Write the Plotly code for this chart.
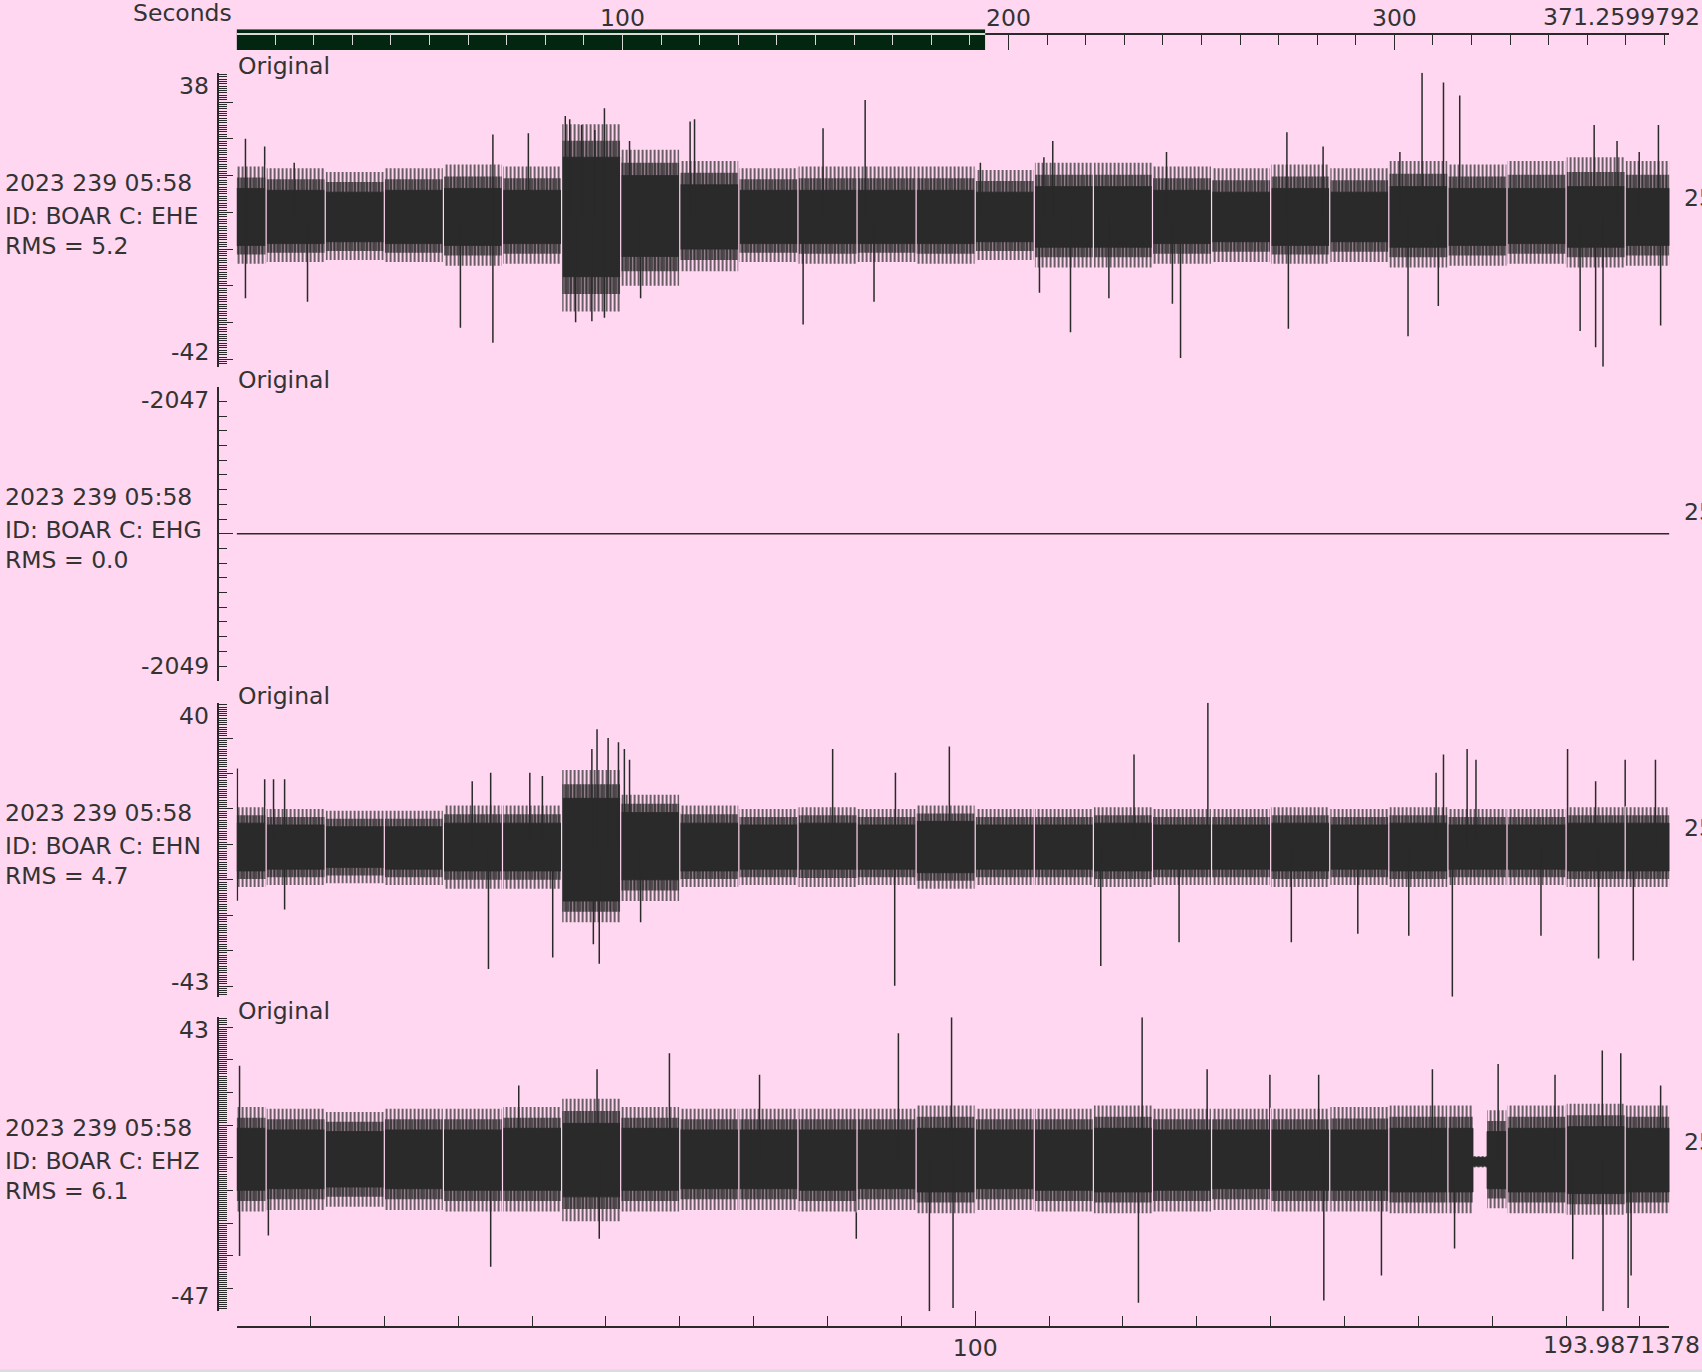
import math
import bisect
import plotly.graph_objects as go

# ---------------- data ----------------
record_seconds = 371.2599792
window_seconds = 193.9871378
start_time = "2023 239 05:58"
station = "BOAR"
channels = ["EHE", "EHG", "EHN", "EHZ"]
rms_values = [5.2, 0.0, 4.7, 6.1]
y_max = [38, -2047, 40, 43]
y_min = [-42, -2049, -43, -47]
y_major_step = [10, 1, 10, 10]
y_minor_step = [0.625, 0.1, 0.625, 0.625]
right_labels = ["25", "25", "25", "25"]

top_major_ticks = [0, 100, 200, 300]
bottom_major_ticks = [0, 100]
minor_tick_step = 10

packet_gaps = [4, 12, 20, 28, 36, 44, 52, 60, 68, 76, 84, 92, 100, 108,
               116, 124, 132, 140, 148, 156, 164, 172, 180, 188]

# EHE : per-packet envelope (dense core and hairy outer zone) + isolated spikes
ehe_edges = [0, 4, 12, 20, 28, 36, 44, 52, 60, 68, 76, 84, 92, 100, 108, 116,
             124, 132, 140, 148, 156, 164, 172, 180, 188, 193.9871378]
ehe_core_hi = [6.5, 6.0, 5.5, 6.0, 6.5, 6.0, 15.0, 10.0, 7.5, 6.0, 6.0, 6.0, 6.0,
               5.5, 7.0, 7.0, 6.0, 5.5, 6.5, 5.5, 7.0, 6.5, 6.5, 7.0, 6.5]
ehe_core_lo = [-9.0, -8.5, -8.0, -8.5, -9.0, -8.5, -17.5, -12.0, -10.0, -8.5, -8.5,
               -8.5, -8.5, -8.0, -9.5, -9.5, -8.5, -8.0, -9.0, -8.0, -9.5, -9.0,
               -8.5, -9.5, -9.0]
ehe_hair_hi = [12.5, 12.0, 11.0, 12.0, 13.0, 12.5, 24.0, 17.0, 14.0, 12.0, 12.5,
               12.5, 12.5, 11.5, 13.5, 13.5, 12.5, 12.0, 13.0, 12.0, 14.0, 13.0,
               14.0, 15.0, 14.0]
ehe_hair_lo = [-14.0, -13.5, -13.0, -13.5, -14.5, -14.0, -27.0, -20.0, -16.0, -13.5,
               -14.0, -13.5, -14.0, -13.0, -15.0, -15.0, -14.0, -13.5, -14.0, -13.5,
               -15.0, -14.5, -14.0, -15.0, -14.5]
ehe_spike_t = [1.2, 1.2, 3.8, 9.6, 7.8, 30.3, 34.7, 34.7, 39.5, 44.5, 45.1, 45.9,
               48.1, 49.8, 49.8, 46.7, 48.5, 53.2, 54.7, 61.4, 62.0, 76.7, 79.4,
               85.1, 86.3, 100.7, 109.3, 110.5, 108.7, 112.9, 118.1, 125.9, 126.7,
               127.8, 142.2, 142.4, 147.1, 157.5, 158.6, 160.5, 162.7, 163.4, 165.6,
               181.9, 183.8, 184.0, 185.0, 186.9, 189.9, 192.5, 192.8]
ehe_spike_v = [20.0, -23.4, 17.9, -24.3, 13.5, -31.4, 21.2, -35.5, 21.5, 26.2, 25.3,
               -29.9, -29.6, 28.3, -28.7, 23.8, 22.4, 19.4, -23.4, 24.7, 25.3, -30.5,
               22.9, 30.6, -24.3, 13.5, 15.0, 19.4, -21.9, -32.6, -23.4, 16.4, -24.9,
               -39.6, 21.8, -31.7, 17.9, 16.4, -33.7, 38.0, -25.5, 35.3, 31.8,
               -32.3, 23.8, -36.7, -42.0, 19.4, 16.4, 23.8, -30.8]

# EHG (flat channel)
ehg_t = [0, 193.9871378]
ehg_v = [-2048, -2048]

# EHN
ehn_edges = list(ehe_edges)
ehn_core_hi = [6.0, 5.5, 5.0, 5.0, 6.0, 6.0, 13.0, 9.0, 6.0, 5.5, 6.0, 5.5, 6.5,
               5.5, 5.5, 6.0, 5.5, 5.5, 6.0, 5.5, 6.0, 5.5, 5.5, 6.0, 6.0]
ehn_core_lo = [-7.5, -7.0, -6.5, -7.0, -7.5, -7.5, -16.0, -10.0, -7.5, -7.0, -7.0,
               -7.0, -8.0, -7.0, -7.0, -7.5, -7.0, -7.0, -7.5, -7.0, -7.5, -7.0,
               -7.0, -7.5, -7.5]
ehn_hair_hi = [10.5, 10.0, 9.5, 9.5, 11.0, 11.0, 21.0, 14.0, 11.0, 10.0, 10.5, 10.0,
               11.0, 10.0, 10.0, 10.5, 10.0, 10.0, 10.5, 10.0, 10.5, 10.0, 10.0,
               10.5, 10.5]
ehn_hair_lo = [-12.0, -11.5, -11.0, -11.5, -12.5, -12.5, -22.0, -16.0, -12.0, -11.5,
               -12.0, -11.5, -12.5, -11.5, -11.5, -12.0, -11.5, -11.5, -12.0, -11.5,
               -12.0, -11.5, -11.5, -12.0, -12.0]
ehn_spike_t = [0.1, 0.1, 3.8, 5.0, 6.5, 6.5, 31.9, 34.1, 34.4, 39.7, 42.8, 41.4,
               48.1, 48.8, 49.1, 48.3, 50.3, 51.7, 52.5, 53.2, 54.7, 80.7, 89.1,
               89.2, 96.5, 117.0, 121.5, 127.6, 131.5, 142.8, 151.8, 158.7, 162.4,
               163.4, 164.6, 166.6, 167.8, 176.6, 180.2, 184.4, 184.0, 188.0, 189.1,
               192.1]
ehn_spike_v = [21.4, -15.9, 18.4, 18.4, 18.4, -18.4, 17.8, -35.2, 20.2, 20.2, -31.9,
               19.3, 26.9, 32.5, -33.7, -28.2, 30.0, 28.8, 26.9, 23.9, -22.0, 26.9,
               -39.9, 20.2, 27.6, -34.3, 25.4, -27.6, 40.0, -27.6, -25.2, -25.8, 20.2,
               25.4, -43.0, 26.9, 23.9, -25.8, 26.9, -32.2, 17.8, 23.9, -32.8, 23.9]

# EHZ (includes a short quiet stretch near 168 s)
ehz_edges = [0, 4, 12, 20, 28, 36, 44, 52, 60, 68, 76, 84, 92, 100, 108, 116,
             124, 132, 140, 148, 156, 164, 167.4, 169.3, 172, 180, 188, 193.9871378]
ehz_core_hi = [9.0, 8.5, 8.0, 8.5, 8.5, 9.0, 10.5, 9.0, 8.5, 8.5, 8.5, 8.5, 9.0,
               8.5, 8.5, 9.0, 8.5, 8.5, 8.5, 8.5, 9.0, 9.0, 0.0, 8.0, 9.0, 9.5, 9.0]
ehz_core_lo = [-10.0, -9.5, -9.0, -9.5, -10.0, -10.0, -12.0, -10.0, -9.5, -9.5,
               -10.0, -9.5, -10.5, -9.5, -10.0, -10.5, -10.0, -9.5, -10.0, -10.0,
               -10.5, -10.5, -2.5, -9.5, -10.5, -11.0, -10.5]
ehz_hair_hi = [15.5, 15.0, 14.0, 15.0, 15.0, 15.5, 18.0, 15.5, 15.0, 15.0, 15.0,
               15.0, 16.0, 15.0, 15.0, 16.0, 15.0, 15.0, 15.0, 15.5, 16.0, 16.0,
               0.5, 14.5, 16.0, 16.5, 16.0]
ehz_hair_lo = [-16.5, -16.0, -15.0, -16.0, -16.5, -16.5, -19.5, -16.5, -16.0,
               -16.0, -16.5, -16.0, -17.0, -16.0, -16.5, -17.0, -16.5, -16.0, -16.5,
               -16.5, -17.0, -17.0, -3.0, -15.5, -17.0, -17.5, -17.0]
ehz_spike_t = [0.4, 0.4, 4.3, 34.4, 38.2, 48.8, 49.1, 58.6, 70.8, 83.9, 89.6, 93.8,
               96.8, 97.0, 122.1, 122.6, 131.4, 139.9, 146.5, 147.2, 155.0, 161.9,
               164.9, 170.8, 178.5, 180.9, 184.9, 185.0, 187.4, 188.4, 188.8, 192.8]
ehz_spike_v = [28.1, -30.1, -23.8, -33.4, 22.1, 27.1, -24.8, 32.0, 25.4, -24.8, 38.1,
               -47.0, 43.0, -46.0, -44.4, 43.0, 27.1, 25.4, 25.4, -43.7, -36.1, 27.1,
               -27.8, 28.7, 25.4, -31.1, 32.8, -47.0, 32.0, -46.0, -36.1, 22.1]

# ---------------- styling / layout constants ----------------
W, H = 1702, 1372
BG = "#ffd7f0"
INK = "#2a2a2a"
TXT = "#333333"
LIGHT = "#d8d8d8"
BAR = "#02260f"
FONT = "DejaVu Sans"
FS = 23.5

X0, X1 = 236.6, 1669.4
YAX_X = 218.0
panel_top = [72.7, 386.7, 702.7, 1017.2]
panel_h = 294.0
bar_top, bar_bot = 29.3, 50.0
top_axis_y = 34.3
bottom_axis_y = 1326.5


def fx(p):
    return p / W


def fy(p):
    return 1 - p / H


fig = go.Figure()


def yname(k):
    return "y" if k == 0 else f"y{k + 1}"


def band(edges, hi, lo, yr, pattern=None):
    bx, by = [], []
    for i in range(len(hi)):
        bx += [edges[i], edges[i + 1]]
        by += [hi[i], hi[i]]
    for i in reversed(range(len(lo))):
        bx += [edges[i + 1], edges[i]]
        by += [lo[i], lo[i]]
    kw = dict(x=bx, y=by, xaxis="x", yaxis=yr, mode="lines", fill="toself",
              hoverinfo="skip")
    if pattern is None:
        kw.update(fillcolor=INK, line=dict(color=INK, width=0.8))
    else:
        size, solidity = pattern
        kw.update(fillcolor="rgba(0,0,0,0)", line=dict(color=INK, width=0),
                  fillpattern=dict(shape="|", size=size, solidity=solidity,
                                   fgcolor=INK, fillmode="replace"))
    fig.add_trace(go.Scatter(**kw))


def add_wave(k, edges, chi, clo, hhi, hlo, st, sv):
    yr = yname(k)
    # hairy outer zone drawn as vertical strokes, denser towards the core
    band(edges, hhi, hlo, yr, pattern=(4, 0.35))
    mid_hi = [(a + b) / 2 for a, b in zip(chi, hhi)]
    mid_lo = [(a + b) / 2 for a, b in zip(clo, hlo)]
    band(edges, mid_hi, mid_lo, yr, pattern=(3, 0.67))
    band(edges, chi, clo, yr)
    sx, sy = [], []
    for t, v in zip(st, sv):
        i = min(max(bisect.bisect_right(edges, t) - 1, 0), len(chi) - 1)
        base = (chi[i] + clo[i]) / 2
        sx += [t, t, None]
        sy += [base, v, None]
    fig.add_trace(go.Scatter(x=sx, y=sy, xaxis="x", yaxis=yr, mode="lines",
                             line=dict(color=INK, width=1.5), hoverinfo="skip"))
    gx, gy = [], []
    for g in packet_gaps:
        j = bisect.bisect_left(edges, g)
        if j <= 0 or j >= len(chi):
            continue
        top = max(hhi[j - 1], hhi[j])
        bot = min(hlo[j - 1], hlo[j])
        gx += [g, g, None]
        gy += [bot - 0.3, top + 0.3, None]
    fig.add_trace(go.Scatter(x=gx, y=gy, xaxis="x", yaxis=yr, mode="lines",
                             line=dict(color=BG, width=1.2), hoverinfo="skip"))


add_wave(0, ehe_edges, ehe_core_hi, ehe_core_lo, ehe_hair_hi, ehe_hair_lo,
         ehe_spike_t, ehe_spike_v)
fig.add_trace(go.Scatter(x=ehg_t, y=ehg_v, xaxis="x", yaxis="y2", mode="lines",
                         line=dict(color=INK, width=1.5), hoverinfo="skip"))
add_wave(2, ehn_edges, ehn_core_hi, ehn_core_lo, ehn_hair_hi, ehn_hair_lo,
         ehn_spike_t, ehn_spike_v)
add_wave(3, ehz_edges, ehz_core_hi, ehz_core_lo, ehz_hair_hi, ehz_hair_lo,
         ehz_spike_t, ehz_spike_v)

# top overview: full-record axis (x2) and visible-window bar (x3)
fig.add_trace(go.Scatter(x=[0, record_seconds], y=[0, 0], xaxis="x2", yaxis="y5",
                         mode="markers", marker=dict(opacity=0), hoverinfo="skip"))
fig.add_trace(go.Scatter(x=[0, window_seconds, window_seconds, 0, 0],
                         y=[0, 0, 1, 1, 0], xaxis="x3", yaxis="y5", mode="lines",
                         fill="toself", fillcolor=BAR, line=dict(color=BAR, width=0),
                         hoverinfo="skip"))

tickfont = dict(family=FONT, size=FS, color=TXT)
layout = dict(
    width=W, height=H, margin=dict(l=0, r=0, t=0, b=0),
    paper_bgcolor=BG, plot_bgcolor=BG, showlegend=False, hovermode=False,
    font=dict(family=FONT, size=FS, color=TXT),
    shapes=[dict(type="rect", xref="paper", yref="paper", x0=0, x1=1,
                 y0=0, y1=fy(1369.5), fillcolor="#dcdcdc", line=dict(width=0),
                 layer="below")],
)

bar_end_px = X0 + window_seconds / record_seconds * (X1 - X0)

layout["xaxis"] = dict(
    domain=[fx(X0), fx(X1)], range=[0, window_seconds], anchor="free",
    position=fy(bottom_axis_y), side="bottom", ticks="inside", tickmode="array",
    tickvals=bottom_major_ticks + [window_seconds],
    ticktext=["" if v == 0 else str(v) for v in bottom_major_ticks] + [""],
    ticklen=15, tickwidth=1.4, tickcolor=INK, showline=True, linewidth=2,
    linecolor=INK, showgrid=False, zeroline=False, tickfont=tickfont,
    minor=dict(tickmode="linear", tick0=0, dtick=minor_tick_step, ticklen=10,
               tickwidth=1.4, tickcolor=INK, ticks="inside", showgrid=False),
    fixedrange=True,
)
layout["xaxis2"] = dict(
    domain=[fx(X0), fx(X1)], range=[0, record_seconds], anchor="free",
    position=fy(top_axis_y), side="top", ticks="inside", tickmode="array",
    tickvals=top_major_ticks + [record_seconds],
    ticktext=["" if v == 0 else str(v) for v in top_major_ticks] + [""],
    ticklen=15, tickwidth=1.4, tickcolor=INK, showline=True, linewidth=2,
    linecolor=INK, showgrid=False, zeroline=False, tickfont=tickfont,
    layer="below traces", ticklabelstandoff=-2,
    minor=dict(tickmode="linear", tick0=0, dtick=minor_tick_step, ticklen=10,
               tickwidth=1.4, tickcolor=INK, ticks="inside", showgrid=False),
    fixedrange=True,
)
layout["xaxis3"] = dict(
    domain=[fx(X0), fx(bar_end_px)], range=[0, window_seconds], anchor="free",
    position=fy(top_axis_y), side="top", ticks="inside", tickmode="array",
    tickvals=[v for v in top_major_ticks if v <= window_seconds],
    ticklen=15, tickwidth=1.4, tickcolor=LIGHT, showline=True, linewidth=2,
    linecolor=LIGHT, showgrid=False, zeroline=False, showticklabels=False,
    minor=dict(tickmode="linear", tick0=0, dtick=minor_tick_step, ticklen=10,
               tickwidth=1.4, tickcolor=LIGHT, ticks="inside", showgrid=False),
    fixedrange=True,
)
layout["yaxis5"] = dict(domain=[fy(bar_bot), fy(bar_top)], range=[0, 1],
                        visible=False, anchor="x3", fixedrange=True)

annotations = []


def ann(text, xpx, ypx, xanchor="left", yanchor="middle", xref="paper",
        yref="paper", yshift=0):
    annotations.append(dict(text=text, x=xpx, y=ypx, xref=xref, yref=yref,
                            xanchor=xanchor, yanchor=yanchor, showarrow=False,
                            font=dict(family=FONT, size=FS, color=TXT),
                            borderpad=0, yshift=yshift))


for k in range(4):
    top = panel_top[k]
    step = y_major_step[k]
    vals = [y_max[k]]
    v = math.floor(y_max[k] / step) * step
    while v > y_min[k]:
        if v < y_max[k]:
            vals.append(v)
        v -= step
    vals.append(y_min[k])
    name = "yaxis" if k == 0 else f"yaxis{k + 1}"
    layout[name] = dict(
        domain=[fy(top + panel_h), fy(top)], range=[y_min[k], y_max[k]],
        anchor="free", position=fx(YAX_X), side="left", ticks="inside",
        tickmode="array", tickvals=vals, ticklen=14, tickwidth=1.4, tickcolor=INK,
        showticklabels=False, showline=True, linewidth=2, linecolor=INK,
        showgrid=False, zeroline=False,
        minor=dict(tickmode="linear", tick0=0, dtick=y_minor_step[k], ticklen=8,
                   tickwidth=1.4, tickcolor=INK, ticks="inside", showgrid=False),
        fixedrange=True,
    )
    yr = yname(k)
    ann(str(y_max[k]), fx(210), y_max[k], xanchor="right", yanchor="top", yref=yr,
        yshift=2)
    ann(str(y_min[k]), fx(210), y_min[k], xanchor="right", yanchor="bottom", yref=yr)
    ann("Original", fx(X0), fy(top - 6.5))
    ann(start_time, fx(4), fy(top + 110.7))
    ann(f"ID: {station} C: {channels[k]}", fx(4), fy(top + 143.3))
    ann(f"RMS = {rms_values[k]:.1f}", fx(4), fy(top + 173.6))
    ann(right_labels[k], fx(1683), fy(top + 125))

ann("Seconds", fx(233), fy(13.5), xanchor="right")
ann(f"{record_seconds}", fx(1701), fy(17.4), xanchor="right")
ann(f"{window_seconds}", fx(1701), fy(1345), xanchor="right")

layout["annotations"] = annotations
fig.update_layout(**layout)

fig.write_html("out.html", config={"displayModeBar": False},
               post_script="document.body.style.margin='0px';document.body.style.overflow='hidden';")
